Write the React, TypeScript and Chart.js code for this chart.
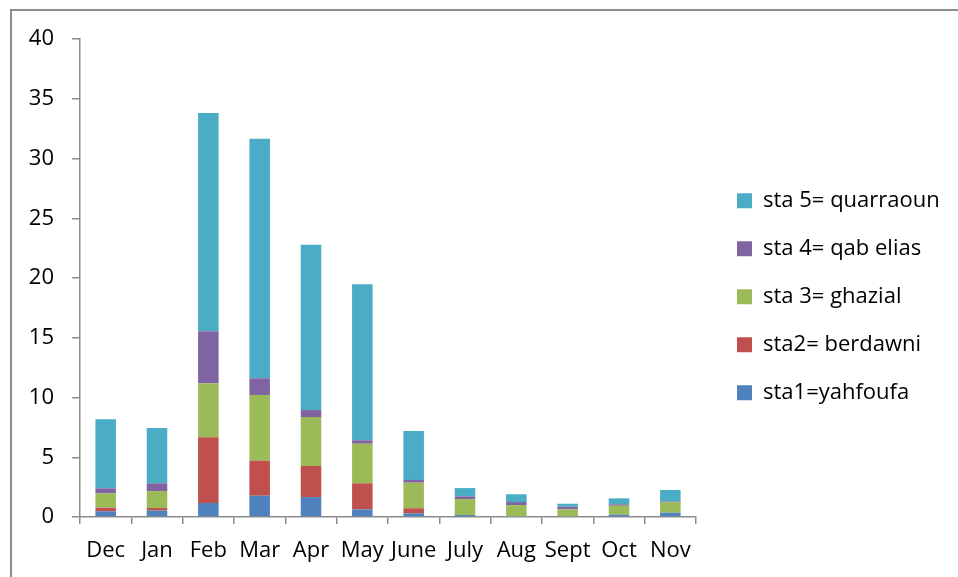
import React, { useEffect, useRef } from "react";
import { Chart, registerables } from "chart.js";

Chart.register(...registerables);

const categories = ["Dec", "Jan", "Feb", "Mar", "Apr", "May", "June", "July", "Aug", "Sept", "Oct", "Nov"];

const sta1 = [0.48, 0.53, 1.17, 1.78, 1.67, 0.64, 0.31, 0.17, 0.05, 0, 0.19, 0.36];
const sta2 = [0.3, 0.22, 5.5, 2.93, 2.6, 2.18, 0.42, 0, 0, 0, 0, 0];
const sta3 = [1.2, 1.42, 4.52, 5.5, 4.1, 3.31, 2.14, 1.33, 0.95, 0.64, 0.75, 0.89];
const sta4 = [0.42, 0.65, 4.35, 1.4, 0.58, 0.29, 0.23, 0.23, 0.25, 0.22, 0.12, 0.05];
const sta5 = [5.78, 4.63, 18.26, 20.05, 13.84, 13.05, 4.1, 0.69, 0.65, 0.25, 0.5, 0.96];

const seriesLabels = ["sta1=yahfoufa", "sta2= berdawni", "sta 3= ghazial", "sta 4= qab elias", "sta 5= quarraoun"];
const seriesColors = ["#4F81BD", "#C0504D", "#9BBB59", "#8064A2", "#4BACC6"];

const yMin = 0;
const yMax = 40;
const yStep = 5;

const LEGEND_X = 737;
const LEGEND_Y = 189.8;
const FONT = "Open Sans";

const legendPlace = {
  id: "legendPlace",
  afterLayout(chart: any) {
    const lg = chart.legend;
    if (!lg) return;
    const pad = lg.options.labels.padding;
    const w = lg.width;
    const h = lg.height;
    lg.left = LEGEND_X - pad;
    lg.top = LEGEND_Y - pad;
    lg.right = lg.left + w;
    lg.bottom = lg.top + h;
  },
};

export default function App() {
  const ref = useRef<HTMLCanvasElement | null>(null);

  useEffect(() => {
    if (!ref.current) return;
    Chart.defaults.font.family = FONT;
    const values = [sta1, sta2, sta3, sta4, sta5];
    const chart = new Chart(ref.current, {
      type: "bar",
      data: {
        labels: categories,
        datasets: values.map((d, i) => ({
          label: seriesLabels[i],
          data: d,
          backgroundColor: seriesColors[i],
          borderWidth: 0,
          barPercentage: 0.4,
          categoryPercentage: 1,
        })),
      },
      options: {
        animation: false,
        responsive: false,
        layout: { padding: { left: 0, top: 39, right: 262, bottom: 0 } },
        plugins: {
          tooltip: { enabled: false },
          legend: {
            display: true,
            position: "chartArea",
            align: "start",
            reverse: true,
            labels: {
              boxWidth: 15,
              boxHeight: 15,
              padding: 26,
              color: "#000",
              font: { family: FONT, size: 22 },
            },
          },
        },
        scales: {
          x: {
            stacked: true,
            afterFit: (s: any) => {
              s.height = 60;
            },
            border: { display: true, color: "#8c8c8c", width: 1.5 },
            grid: {
              display: true,
              offset: true,
              drawOnChartArea: false,
              drawTicks: true,
              tickLength: 7,
              color: "#8c8c8c",
              lineWidth: 1.5,
            },
            ticks: {
              autoSkip: false,
              maxRotation: 0,
              minRotation: 0,
              padding: 14,
              color: "#000",
              font: { family: FONT, size: 22 },
            },
          },
          y: {
            stacked: true,
            min: yMin,
            max: yMax,
            afterFit: (s: any) => {
              s.width = 80;
            },
            border: { display: true, color: "#8c8c8c", width: 1.5 },
            grid: {
              display: true,
              drawOnChartArea: false,
              drawTicks: true,
              tickLength: 8,
              color: "#8c8c8c",
              lineWidth: 1.5,
            },
            ticks: {
              stepSize: yStep,
              padding: 18,
              color: "#000",
              font: { family: FONT, size: 22 },
            },
          },
        },
      },
      plugins: [legendPlace],
    });
    return () => chart.destroy();
  }, []);

  return (
    <div
      style={{
        position: "fixed",
        left: 0,
        top: 0,
        width: 958,
        height: 577,
        overflow: "hidden",
        background: "#fff",
      }}
    >
      <div
        style={{
          position: "absolute",
          left: 10,
          top: 9,
          width: 2000,
          height: 2000,
          borderLeft: "2px solid #8c8c8c",
          borderTop: "2px solid #8c8c8c",
        }}
      />
      <canvas ref={ref} width={958} height={577} style={{ position: "absolute", left: 0, top: 0 }} />
    </div>
  );
}
